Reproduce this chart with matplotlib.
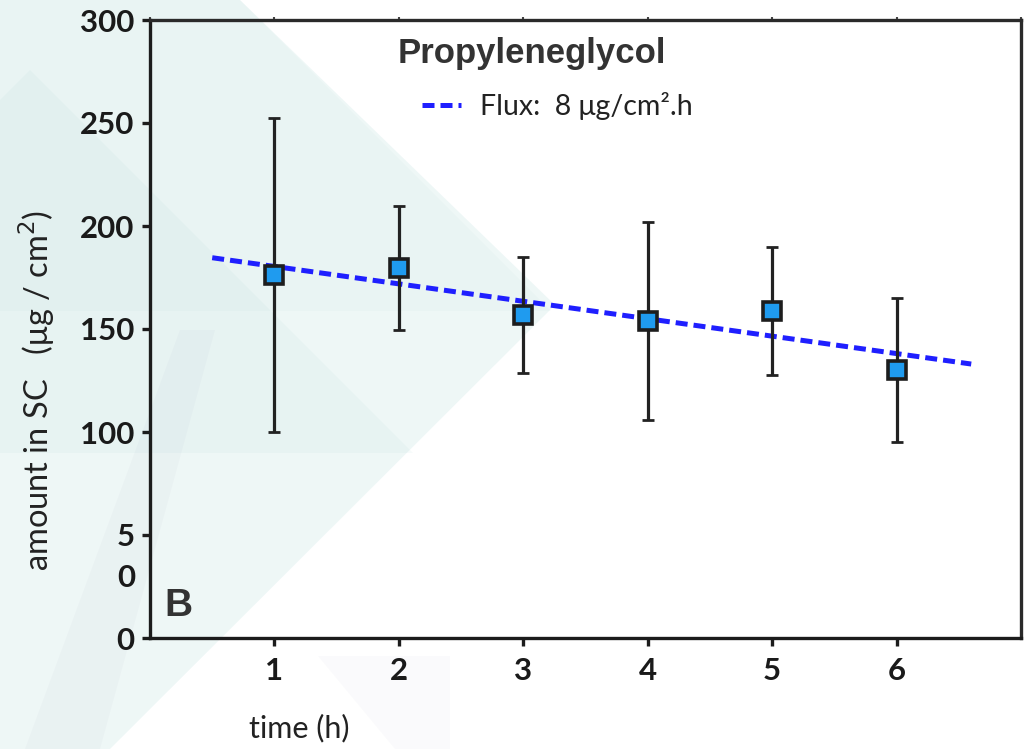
import numpy as np
import matplotlib
matplotlib.use("Agg")
import matplotlib.pyplot as plt
from matplotlib.patches import Polygon
from matplotlib.transforms import blended_transform_factory


# ----------------------------------------------------------
# Data: amount in stratum corneum over time
# ----------------------------------------------------------
time_h = [1, 2, 3, 4, 5, 6]
amount = [176.2, 179.6, 156.8, 153.9, 158.7, 130.1]
amount_sd = [76, 30, 28, 48, 31, 35]

y_ticks = [0, 50, 100, 150, 200, 250, 300]
y_ticklabels = ["0", "5", "100", "150", "200", "250", "300"]
x_ticks = [1, 2, 3, 4, 5, 6]

title = "Propyleneglycol"
flux_label = "Flux:  8 \u03bcg/cm\u00b2.h"
panel_tag = "B"

W, H = 1025, 749

plt.rcParams['font.family'] = ['Lato', 'DejaVu Sans']

fig = plt.figure(figsize=(W / 100, H / 100), dpi=100)
fig.patch.set_facecolor("white")

# faint watermark shapes behind the plot (pixel coords, top-left origin)
def px_poly(points, color, alpha):
    pts = [(x / W, 1 - y / H) for x, y in points]
    fig.add_artist(Polygon(pts, closed=True, transform=fig.transFigure,
                           facecolor=color, edgecolor="none", alpha=alpha,
                           zorder=0))

teal = "#2e9c96"
px_poly([(0, 0), (240, 0), (555, 305), (110, 749), (0, 749)], teal, 0.08)
px_poly([(30, 70), (413, 453), (0, 453), (0, 100)], teal, 0.035)
px_poly([(0, 0), (240, 0), (551, 311), (0, 311)], teal, 0.025)
px_poly([(25, 749), (100, 749), (215, 330), (180, 330)], "#7070a0", 0.035)
px_poly([(318, 656), (450, 656), (450, 749), (395, 749)], "#7070a0", 0.03)

ax = fig.add_axes([150 / W, 1 - 638 / H, (1021 - 150) / W, (638 - 20) / H])
ax.set_facecolor("none")

# linear fit through the means
slope, intercept = np.polyfit(time_h, amount, 1)
fit_x = np.array([0.5, 6.6])
ax.plot(fit_x, intercept + slope * fit_x, color="#1f1fff", lw=3.6,
        dashes=(2.4, 1.2), zorder=2, label=flux_label)

ax.errorbar(time_h, amount, yerr=amount_sd, fmt="none", ecolor="#222222",
            elinewidth=2.3, capsize=4.5, capthick=2, zorder=3)
ax.plot(time_h, amount, linestyle="none", marker="s", markersize=13,
        markerfacecolor="#1f9bef", markeredgecolor="#1d1d1d",
        markeredgewidth=2.6, zorder=4)

ax.set_xlim(0, 7)
ax.set_ylim(0, 300)

for side in ["left", "bottom", "top", "right"]:
    ax.spines[side].set_linewidth(2.4)
    ax.spines[side].set_color("#1c1c1c")
ax.spines["top"].set_color("#2a2a2a")
ax.spines["right"].set_color("#2a2a2a")

ax.set_yticks(y_ticks)
ax.set_yticklabels(y_ticklabels)
ax.set_xticks(x_ticks)
ax.set_xticklabels([str(t) for t in x_ticks])
ax.tick_params(axis="both", direction="out", length=6, width=2.4,
               color="#1c1c1c", labelsize=22.5, pad=5)
ax.tick_params(axis="x", pad=8)
# tiny marks on the top spine
ax.secondary_xaxis("top").tick_params(length=2, width=1.5, labeltop=False,
                                      color="#444444")
for lab in ax.get_yticklabels() + ax.get_xticklabels():
    lab.set_fontweight("bold")
    lab.set_color("#1a1a1a")

# second digit of the 50 label sits on its own line below the 5
ax.annotate("0", xy=(0, 50), xycoords=blended_transform_factory(ax.transAxes, ax.transData),
            xytext=(-10.5, -31), textcoords="offset points", ha="right",
            va="center", fontsize=22.5, fontweight="bold", color="#1a1a1a")

ax.set_ylabel("amount in SC   (\u03bcg / cm$^2$)", fontsize=23.5, color="#222222")
ax.yaxis.set_label_coords(-0.107, 0.40)
ax.set_xlabel("time (h)", fontsize=22, color="#222222", va="center")
ax.xaxis.set_label_coords(0.171, -0.146)

ax.text(0.4387, 0.945, title, transform=ax.transAxes, ha="center", va="center",
        fontsize=25, fontweight="bold", color="#333333",
        family=["Liberation Sans", "DejaVu Sans"])
ax.text(0.017, 0.051, panel_tag, transform=ax.transAxes, ha="left", va="center",
        fontsize=28, fontweight="bold", color="#333333",
        family=["Liberation Sans", "DejaVu Sans"])

leg = ax.legend(loc="upper left", bbox_to_anchor=(0.283, 0.925), frameon=False,
                fontsize=20.5, handlelength=1.35, handletextpad=0.7,
                labelcolor="#222222")

fig.savefig("out.png", dpi=100, facecolor=fig.get_facecolor())
